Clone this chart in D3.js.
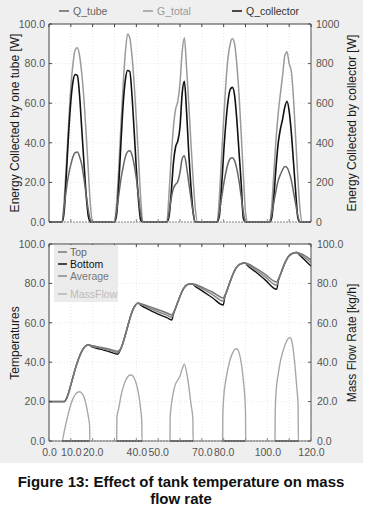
<!DOCTYPE html>
<html><head><meta charset="utf-8">
<script src="https://cdn.jsdelivr.net/npm/d3@7"></script>
<style>
html,body{margin:0;padding:0;background:#fff;}
text{font-family:"Liberation Sans",Arial,sans-serif;}
</style></head>
<body><svg id="c" width="365" height="518"></svg>
<script>
// ---------------- DATA ----------------
// Top panel: sampled hours (night hours are zero)
const topHours = [0,
  5,6,7,8,9,10,11,12,13,14,15,16,17,18,19,20,
  29,30,31,32,33,34,35,36,37,38,39,40,41,42,43,44,
  53,54,55,56,57,58,59,60,61,62,63,64,65,66,67,68,
  77,78,79,80,81,82,83,84,85,86,87,88,89,90,91,92,
  101,102,103,104,105,106,107,108,109,110,111,112,113,114,115,116,
  120];
const qTube = [0,
  0,0,8,17,24,29,33,35,35.4,33,29,22,14,6,1,0,
  0,0,6,14,22,28,33,35.5,36,34,29,22,13,4,0,0,
  0,0,5,12,17,19,20.5,25,32,33.5,28,20,12,5,0,0,
  0,5,12,19,25,29.5,32,32.5,31,27,21,13,5,0,0,0,
  0,4,10,16,21,24,26.5,28,27.5,25,21,15,9,3,0,0,
  0];
const gTotal = [0,
  0,0,12,30,50,68,80,87,88,84,75,62,45,26,8,0,
  0,0,10,28,50,70,86,95,93,84,70,52,32,12,0,0,
  0,0,15,33,48,57,61,70,86,93,78,60,40,22,7,0,
  0,12,32,52,70,83,90,92.5,90,80,65,45,24,5,0,0,
  0,8,25,42,55,65,74,84,86,80,76,62,42,22,6,0,
  0];
const qCollector = [0,
  0,0,60,250,450,610,710,745,740,640,470,300,140,30,0,0,
  0,0,40,200,410,600,720,765,760,640,460,270,110,10,0,0,
  0,0,30,150,300,380,410,480,650,710,560,350,180,50,0,0,
  0,30,170,350,500,610,670,680,640,520,360,200,20,0,0,0,
  0,20,130,280,400,470,520,580,610,560,450,300,150,20,0,0,
  0];

// Bottom panel: tank temperatures
const tempHours = [0,7,8,9,10,11,12,13,14,15,16,17,18,20,24,28,31.5,
  32.5,33.5,34.5,35.5,36.5,37.5,38.5,39.5,40.8,42,46,50,54,56.2,
  57,58,59,60,61,62,63,64,65.4,67,71,75,79.8,
  80.5,81.5,82.5,83.5,84.5,85.5,86.5,88,89.8,91,95,99,104.3,
  105,106,107,108,109,110,111.5,113.5,115,117.5,120];
const tempTop = [20,20,21.5,24.5,28.5,32.5,36.5,40,43,45.5,47.3,48.4,48.8,48.3,47.5,46.5,45.6,
  46.3,48.5,52,56,60,63.8,66.8,68.8,70,69.7,68.2,66.6,65,64,
  65.2,67.5,70.5,73.5,76,78,79.1,79.6,79.8,79.4,77.6,75.5,72.6,
  73.8,76.3,79.5,82.5,85.3,87.5,89,90,90.4,90,87.5,84.6,80.7,
  82,84.5,87.5,90.3,92.5,94,95.2,95.7,95.2,93.8,92];
const tempBottom = [20,20,21.5,24.5,28.5,32.5,36.5,40,43,45.5,47.3,48.4,48.8,47.6,46.5,45.2,44,
  45.8,48.5,52,56,60,63.8,66.8,68.8,70,69,66.6,64.4,62.6,61.4,
  64.5,67.5,70.5,73.5,76,78,79.1,79.6,79.8,78.5,75.6,72.6,69,
  73,76.3,79.5,82.5,85.3,87.5,89,90,90.4,89,85.5,81.8,77,
  81.2,84.5,87.5,90.3,92.5,94,95.2,95.7,94.2,91.5,88.8];
const tempAverage = [20,20,21.5,24.5,28.5,32.5,36.5,40,43,45.5,47.3,48.4,48.8,48,47.1,46,45,
  46.1,48.5,52,56,60,63.8,66.8,68.8,70,69.4,67.5,65.6,63.9,62.8,
  64.9,67.5,70.5,73.5,76,78,79.1,79.6,79.8,79,76.8,74.2,71,
  73.4,76.3,79.5,82.5,85.3,87.5,89,90,90.4,89.6,86.6,83.3,79,
  81.6,84.5,87.5,90.3,92.5,94,95.2,95.7,94.8,92.8,90.5];

// Mass flow rate [kg/h]
const flowHours = [0,
  6,7,8,9,10,11,12,13,14,15,16,17,18,18.6,18.7,
  31,31.1,32,33,34,35,36,37,38,39,40,41,42,42.5,42.6,
  55.4,55.5,56,57,58,59,60,61,62,63,64,65,65.9,66,
  79.5,79.6,80,81,82,83,84,85,86,87,88,89,90,90.1,
  103.5,103.6,104,105,106,107,108,109,110,110.8,111.5,112.5,113.5,114.1,114.2,
  120];
const massFlow = [0,
  0,5,10,14.5,18.5,21.5,23.5,24.7,25,24.3,22.3,18.5,12.5,8,0,
  0,12,17,23,27.5,30.5,32.5,33.5,33.4,32,29,24,16,10,0,
  0,12,18,25,29,31,33,36.5,39,35,28,19,11,0,
  0,13,22,31,37,41.5,44.5,46.3,46.8,45,40,31,15,0,
  0,14,25,34,40.5,45,48.5,51,52.5,52,49,40,27,18,0,
  0];

const yTicksLeft = [0,20,40,60,80,100];
const yTicksRightTop = [0,200,400,600,800,1000];
const xGridHours = [0,10,20,30,40,50,60,70,80,90,100,110,120];
const xTickValues = [0,10,20,40,50,70,80,100,120];
const xTickLabels = ["0.0","10.0","20.0","40.0","50.0","70.0","80.0","100.0","120.0"];

// ---------------- DRAW ----------------
const svg = d3.select("#c");
svg.append("rect").attr("x",0).attr("y",0).attr("width",365).attr("height",518).attr("fill","#fff");
svg.append("rect").attr("x",0).attr("y",0).attr("width",363).attr("height",463).attr("fill","#efefef");

const L = 49, R = 311;
const x = d3.scaleLinear().domain([0,120]).range([L,R]);
const topP = {y0:24, y1:222};
const botP = {y0:244, y1:441};
const yTubeS = d3.scaleLinear().domain([0,100]).range([topP.y1, topP.y0]);
const yCollS = d3.scaleLinear().domain([0,1000]).range([topP.y1, topP.y0]);
const yTempS = d3.scaleLinear().domain([0,100]).range([botP.y1, botP.y0]);
const yFlowS = d3.scaleLinear().domain([0,100]).range([botP.y1, botP.y0]);

function panel(p, yS){
  svg.append("rect").attr("x",L).attr("y",p.y0).attr("width",R-L).attr("height",p.y1-p.y0).attr("fill","#fff");
  const g = svg.append("g");
  xGridHours.forEach(h=>{
    g.append("line").attr("x1",x(h)).attr("x2",x(h)).attr("y1",p.y0).attr("y2",p.y1)
      .attr("stroke","#e2e2e2").attr("stroke-width",0.8).attr("stroke-dasharray","1,2");
  });
  yTicksLeft.forEach(v=>{
    g.append("line").attr("x1",L).attr("x2",R).attr("y1",yS(v)).attr("y2",yS(v))
      .attr("stroke","#e2e2e2").attr("stroke-width",0.8).attr("stroke-dasharray","1,2");
  });
}
panel(topP, yTubeS);
panel(botP, yTempS);

function frame(p, yS){
  const g = svg.append("g");
  g.append("line").attr("x1",L).attr("x2",R).attr("y1",p.y0).attr("y2",p.y0).attr("stroke","#444").attr("stroke-width",1);
  g.append("line").attr("x1",L).attr("x2",L).attr("y1",p.y0).attr("y2",p.y1).attr("stroke","#444").attr("stroke-width",1);
  g.append("line").attr("x1",R).attr("x2",R).attr("y1",p.y0).attr("y2",p.y1).attr("stroke","#555").attr("stroke-width",1);
  g.append("line").attr("x1",L).attr("x2",R).attr("y1",p.y1).attr("y2",p.y1).attr("stroke","#888").attr("stroke-width",1).attr("stroke-dasharray","2,1");
  xGridHours.forEach(h=>{
    g.append("line").attr("x1",x(h)).attr("x2",x(h)).attr("y1",p.y0).attr("y2",p.y0+3).attr("stroke","#444");
    g.append("line").attr("x1",x(h)).attr("x2",x(h)).attr("y1",p.y1).attr("y2",p.y1-3).attr("stroke","#888");
  });
  yTicksLeft.forEach(v=>{
    g.append("line").attr("x1",L).attr("x2",L+3).attr("y1",yS(v)).attr("y2",yS(v)).attr("stroke","#444");
    g.append("line").attr("x1",R).attr("x2",R-3).attr("y1",yS(v)).attr("y2",yS(v)).attr("stroke","#555");
  });
}

function styleAxis(g){
  g.select(".domain").remove();
  g.selectAll("text").attr("font-family","Liberation Sans, Arial, sans-serif").attr("font-size","10.5px").attr("fill","#555");
}

// Top axes
svg.append("g").attr("transform",`translate(${L},0)`)
  .call(d3.axisLeft(yTubeS).tickValues(yTicksLeft).tickFormat(d3.format(".1f")).tickSize(0).tickPadding(4)).call(styleAxis);
svg.append("g").attr("transform",`translate(${R},0)`)
  .call(d3.axisRight(yCollS).tickValues(yTicksRightTop).tickFormat(d3.format("d")).tickSize(0).tickPadding(5)).call(styleAxis);
// Bottom axes
svg.append("g").attr("transform",`translate(${L},0)`)
  .call(d3.axisLeft(yTempS).tickValues(yTicksLeft).tickFormat(d3.format(".1f")).tickSize(0).tickPadding(4)).call(styleAxis);
svg.append("g").attr("transform",`translate(${R},0)`)
  .call(d3.axisRight(yFlowS).tickValues(yTicksLeft).tickFormat(d3.format(".1f")).tickSize(0).tickPadding(6)).call(styleAxis);
svg.append("g").attr("transform",`translate(0,${botP.y1})`)
  .call(d3.axisBottom(x).tickValues(xTickValues).tickFormat((d,i)=>xTickLabels[i]).tickSize(0).tickPadding(8)).call(styleAxis);

// Lines
function drawLine(xs, ys, yS, color, w){
  const pts = xs.map((h,i)=>[h, ys[i]]);
  svg.append("path").datum(pts)
    .attr("d", d3.line().x(d=>x(d[0])).y(d=>yS(d[1])).curve(d3.curveMonotoneX))
    .attr("fill","none").attr("stroke",color).attr("stroke-width",w).attr("stroke-linejoin","round");
}
drawLine(topHours, gTotal, yTubeS, "#9a9a9a", 1.5);
drawLine(topHours, qCollector, yCollS, "#111", 1.6);
drawLine(topHours, qTube, yTubeS, "#666", 1.5);

drawLine(flowHours, massFlow, yFlowS, "#a8a8a8", 1.4);
// pump-on segments at zero
let seg = null;
flowHours.forEach((h,i)=>{
  if (massFlow[i] > 0 || (i>0 && massFlow[i-1] > 0)) {
    if (!seg) seg = [flowHours[i-1], h];
    seg[1] = h;
  } else if (seg) {
    svg.append("line").attr("x1",x(seg[0])).attr("x2",x(seg[1])).attr("y1",yFlowS(0)).attr("y2",yFlowS(0)).attr("stroke","#222").attr("stroke-width",1.4);
    seg = null;
  }
});
drawLine(tempHours, tempBottom, yTempS, "#111", 1.4);
drawLine(tempHours, tempAverage, yTempS, "#8a8a8a", 1.5);
drawLine(tempHours, tempTop, yTempS, "#777", 1.5);

frame(topP, yTubeS);
frame(botP, yTempS);

// Top legend
const topLegend = [["Q_tube","#666","#666",59],["G_total","#9a9a9a","#999",143],["Q_collector","#111","#333",232]];
topLegend.forEach(([t,c,tc,lx])=>{
  svg.append("line").attr("x1",lx).attr("x2",lx+10).attr("y1",11).attr("y2",11).attr("stroke",c).attr("stroke-width",1.5);
  svg.append("text").attr("x",lx+14).attr("y",14.5).attr("font-size","10.5px").attr("fill",tc).text(t);
});

// Bottom legend
svg.append("rect").attr("x",54).attr("y",245).attr("width",64).attr("height",57).attr("fill","#ebebeb");
const botLegend = [["Top","#777","#666",252],["Bottom","#111","#111",264],["Average","#8a8a8a","#777",276],["MassFlow","#b5b5b5","#bbb",294]];
botLegend.forEach(([t,c,tc,ly])=>{
  svg.append("line").attr("x1",58).attr("x2",67).attr("y1",ly).attr("y2",ly).attr("stroke",c).attr("stroke-width",1.5);
  svg.append("text").attr("x",70).attr("y",ly+3.5).attr("font-size","10.5px").attr("fill",tc).text(t);
});

// Axis titles
function vtitle(txt, cx, cy){
  svg.append("text").attr("transform",`translate(${cx},${cy}) rotate(-90)`).attr("text-anchor","middle")
    .attr("dominant-baseline","central").attr("font-size","12px").attr("fill","#1a1a1a").text(txt);
}
vtitle("Energy Collected by one tube [W]", 15, 123);
vtitle("Energy Collected by collector [W]", 352, 123);
vtitle("Temperatures", 15, 343);
vtitle("Mass Flow Rate [kg/h]", 352, 343);

// Caption
svg.append("text").attr("x",181).attr("y",487).attr("text-anchor","middle").attr("font-size","15px").attr("font-weight","bold").attr("fill","#111")
  .text("Figure 13: Effect of tank temperature on mass");
svg.append("text").attr("x",181).attr("y",504).attr("text-anchor","middle").attr("font-size","15px").attr("font-weight","bold").attr("fill","#111")
  .text("flow rate");
</script></body></html>
